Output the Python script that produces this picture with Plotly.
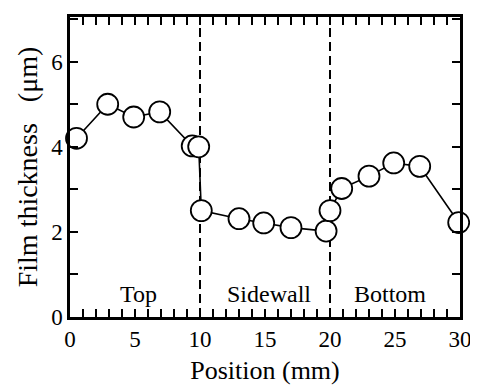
import plotly.graph_objects as go

# Data
position_mm = [0.5, 2.9, 4.9, 6.9, 9.4, 9.9, 10.1, 13.0, 14.9, 17.0, 19.7, 20.0, 20.9, 23.0, 24.9, 26.9, 29.9]
thickness_um = [4.2, 5.0, 4.7, 4.82, 4.02, 4.0, 2.5, 2.31, 2.21, 2.1, 2.02, 2.5, 3.02, 3.31, 3.62, 3.54, 2.22]

region_labels = ["Top", "Sidewall", "Bottom"]
region_label_x = [5.3, 15.3, 24.6]
region_label_y = [0.55, 0.55, 0.55]
boundaries = [10, 20]

FONT = "'Liberation Serif', 'Times New Roman', 'DejaVu Serif', serif"

fig = go.Figure()
fig.add_trace(go.Scatter(
    x=position_mm, y=thickness_um, mode="lines+markers",
    line=dict(color="black", width=1.6),
    marker=dict(symbol="circle", size=21, color="white",
                line=dict(color="black", width=1.8)),
    showlegend=False, cliponaxis=False,
))

for b in boundaries:
    fig.add_shape(type="line", x0=b, x1=b, y0=0, y1=1, xref="x", yref="paper",
                  line=dict(color="black", width=2, dash="9px,5px"), layer="below")

for t, x, y in zip(region_labels, region_label_x, region_label_y):
    fig.add_annotation(x=x, y=y, text=t, showarrow=False,
                       font=dict(family=FONT, size=24, color="black"))

axis_common = dict(
    showgrid=False, zeroline=False, showline=True, linecolor="black", linewidth=2.5,
    mirror="allticks", ticks="inside", ticklen=8, tickwidth=2, tickcolor="black",
    tickfont=dict(family=FONT, size=23, color="black"),
)

fig.update_xaxes(range=[0, 30], tick0=0, dtick=5,
                 minor=dict(dtick=1, ticks="inside", ticklen=8, tickwidth=2, tickcolor="black"),
                 title=dict(text="Position (mm)", font=dict(family=FONT, size=26, color="black"), standoff=10),
                 **axis_common)
fig.update_yaxes(range=[0, 7.05], tick0=0, dtick=2,
                 minor=dict(dtick=1, ticks="inside", ticklen=8, tickwidth=2, tickcolor="black"),
                 title=dict(text="Film thickness\u00a0\u00a0\u00a0(μm)", font=dict(family=FONT, size=28, color="black"), standoff=6),
                 **axis_common)

# page body has an 8px default margin: compensate so the plot sits where the reference does
fig.update_layout(
    width=470, height=379,
    margin=dict(l=62, r=16, t=6, b=67),
    plot_bgcolor="white", paper_bgcolor="white",
    font=dict(family=FONT, color="black"),
)

fig.write_html("out.html")
